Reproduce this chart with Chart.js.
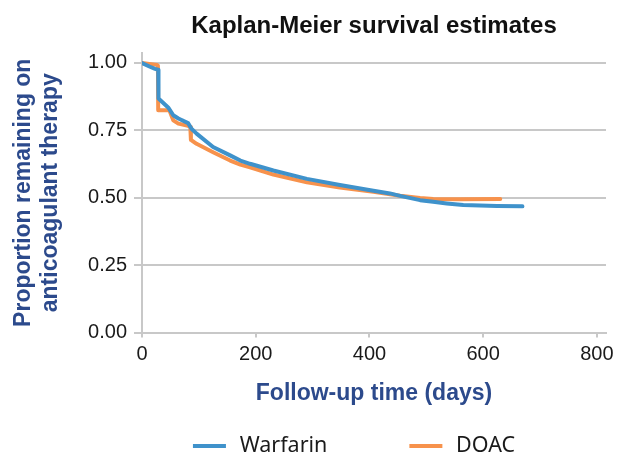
<!DOCTYPE html>
<html lang="en">
<head>
  <meta charset="UTF-8" />
  <title>Kaplan-Meier survival estimates</title>
  <script src="https://cdn.jsdelivr.net/npm/chart.js"></script>
  <style>
    body { margin: 0; background: #fff; }
  </style>
</head>
<body>
  <canvas id="kmChart" width="626" height="453"></canvas>

  <script>
    // valores (dias de seguimento / proporção ainda em tratamento)
    const seriesNames = ['Warfarin', 'DOAC'];
    const warfarinDays = [0, 14, 23, 28.5, 29, 46, 55, 64, 81, 87, 96, 125, 155, 173, 190, 231, 290, 348, 407, 436, 454, 489, 512, 536, 565, 624, 669];
    const warfarinSurv = [1.0, 0.986, 0.978, 0.975, 0.868, 0.835, 0.806, 0.794, 0.777, 0.756, 0.738, 0.688, 0.657, 0.638, 0.626, 0.601, 0.570, 0.547, 0.526, 0.516, 0.507, 0.491, 0.485, 0.479, 0.473, 0.469, 0.468];
    const doacDays = [0, 26, 28, 28.5, 48, 55, 64, 81, 85, 86, 96, 125, 155, 173, 190, 231, 290, 348, 407, 454, 489, 512, 560, 630];
    const doacSurv = [1.0, 0.993, 0.99, 0.825, 0.825, 0.787, 0.775, 0.767, 0.762, 0.715, 0.700, 0.669, 0.638, 0.623, 0.613, 0.586, 0.557, 0.538, 0.522, 0.507, 0.499, 0.495, 0.494, 0.495];
    const xTicks = [0, 200, 400, 600, 800];
    const yTicks = [0, 0.25, 0.5, 0.75, 1.0];

    const blue = '#3f92cb';
    const orange = '#f7924c';
    const gridGray = '#c8c8c8';
    const axisBlue = '#2c4a8c';

    Chart.defaults.font.family = '"Liberation Sans", Arial, sans-serif';

    // amostra da legenda: traço curto com espaço transparente à esquerda
    function legendSwatch(color) {
      const c = document.createElement('canvas');
      c.width = 118;
      c.height = 4;
      const g = c.getContext('2d');
      g.fillStyle = color;
      g.fillRect(82, 0, 33, 4);
      return c;
    }

    const toPoints = (xs, ys) => xs.map((x, i) => ({ x: x, y: ys[i] }));

    const ctx = document.getElementById('kmChart').getContext('2d');
    const kmChart = new Chart(ctx, {
      type: 'line',
      data: {
        datasets: [
          {
            label: seriesNames[0],
            data: toPoints(warfarinDays, warfarinSurv),
            borderColor: blue,
            backgroundColor: blue,
            borderWidth: 4,
            pointRadius: 0,
            tension: 0,
            borderCapStyle: 'round',
            borderJoinStyle: 'round'
          },
          {
            label: seriesNames[1],
            data: toPoints(doacDays, doacSurv),
            borderColor: orange,
            backgroundColor: orange,
            borderWidth: 4,
            pointRadius: 0,
            tension: 0,
            borderCapStyle: 'round',
            borderJoinStyle: 'round'
          }
        ]
      },
      options: {
        responsive: false,
        animation: false,
        devicePixelRatio: 1,
        layout: { padding: { top: 0, right: 0, bottom: -14, left: 0 } },
        scales: {
          x: {
            type: 'linear',
            min: 0,
            max: 816,
            afterBuildTicks: (axis) => { axis.ticks = xTicks.map(v => ({ value: v })); },
            ticks: { color: '#1a1a1a', font: { size: 20 }, padding: 5 },
            grid: { drawOnChartArea: false, drawTicks: true, tickLength: 5, color: gridGray, lineWidth: 2 },
            border: { color: gridGray, width: 2 },
            title: {
              display: true,
              text: 'Follow-up time (days)',
              color: axisBlue,
              font: { size: 23, weight: 'bold', lineHeight: '27px' },
              padding: { top: 8.5, bottom: 28.5 }
            }
          },
          y: {
            min: 0,
            max: 1.037,
            afterBuildTicks: (axis) => { axis.ticks = yTicks.map(v => ({ value: v })); },
            afterFit: (axis) => { axis.width = 142; },
            ticks: {
              color: '#1a1a1a',
              font: { size: 20 },
              padding: 7,
              callback: (v) => Number(v).toFixed(2)
            },
            grid: { color: gridGray, lineWidth: 2, tickLength: 8 },
            border: { color: gridGray, width: 2 },
            title: {
              display: true,
              text: ['Proportion remaining on', 'anticoagulant therapy'],
              color: axisBlue,
              font: { size: 23, weight: 'bold', lineHeight: '27px' },
              padding: { top: 10, bottom: 0 }
            }
          },
          // eixo vazio à direita, só para deixar a margem sem descentrar a legenda
          yRight: {
            position: 'right',
            display: true,
            afterFit: (axis) => { axis.width = 20; },
            ticks: { display: false },
            grid: { display: false, drawTicks: false },
            border: { display: false }
          }
        },
        plugins: {
          title: {
            display: true,
            text: 'Kaplan-Meier survival estimates',
            fullSize: false,
            color: '#111',
            font: { size: 24, weight: 'bold', lineHeight: '28px' },
            padding: { top: 12.5, bottom: 12.5 }
          },
          legend: {
            position: 'bottom',
            labels: {
              usePointStyle: true,
              pointStyleWidth: 118,
              padding: 0,
              color: '#1a1a1a',
              font: { family: '"Noto Sans", sans-serif', size: 21.5 },
              generateLabels: (chart) => {
                const items = Chart.defaults.plugins.legend.labels.generateLabels(chart);
                items.forEach((it, i) => { it.pointStyle = legendSwatch(chart.data.datasets[i].borderColor); });
                return items;
              }
            }
          },
          tooltip: { enabled: false }
        }
      }
    });
  </script>
</body>
</html>
